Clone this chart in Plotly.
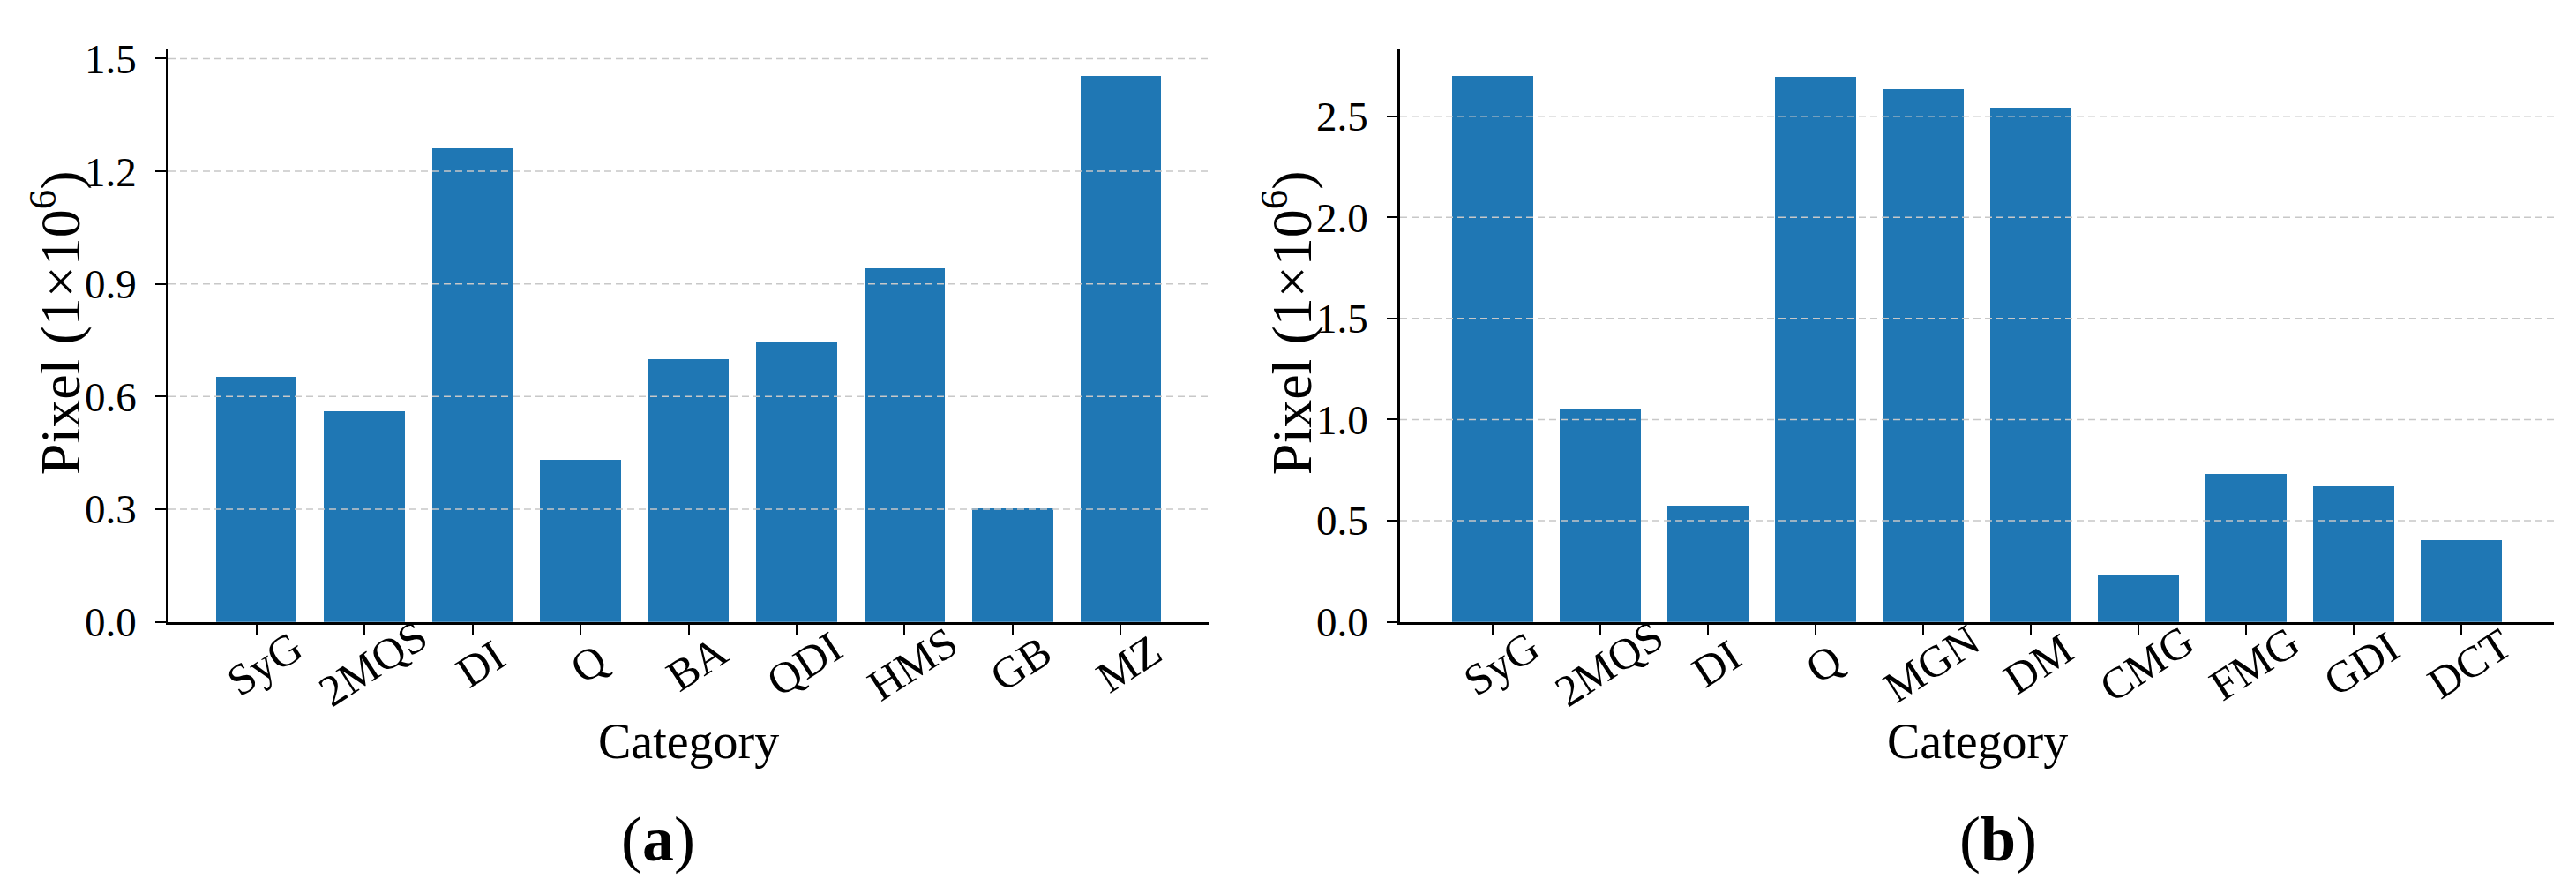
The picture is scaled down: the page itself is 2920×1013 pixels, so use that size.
"""
Pixel counts per category, two side-by-side bar panels (a) and (b).
"""

import plotly.graph_objects as go
from plotly.subplots import make_subplots


# Panel (a) data
CATS_A = ["SyG", "2MQS", "DI", "Q", "BA", "QDI", "HMS", "GB", "MZ"]
VALS_A = [0.654, 0.562, 1.263, 0.432, 0.700, 0.746, 0.942, 0.304, 1.455]
YTICKS_A = [0.0, 0.3, 0.6, 0.9, 1.2, 1.5]

# Panel (b) data
CATS_B = ["SyG", "2MQS", "DI", "Q", "MGN", "DM", "CMG", "FMG", "GDI", "DCT"]
VALS_B = [2.701, 1.056, 0.578, 2.698, 2.636, 2.543, 0.231, 0.733, 0.670, 0.404]
YTICKS_B = [0.0, 0.5, 1.0, 1.5, 2.0, 2.5]

BAR_COLOR = "#1f77b4"
GRID_COLOR = "#c8c8c8"
FONT = "Liberation Serif, Times New Roman, serif"
W, H = 2920, 1013
BAR_WIDTH = 0.75
TICK_ANGLE = -33

# pixel layout of the reference, converted to paper fractions below
PLOT_TOP, PLOT_BOTTOM = 35, 711
PANELS = [
    dict(cats=CATS_A, vals=VALS_A, yticks=YTICKS_A, x0=183, x1=1362, label="a", label_x=738),
    dict(cats=CATS_B, vals=VALS_B, yticks=YTICKS_B, x0=1579, x1=2887, label="b", label_x=2257),
]


def px_x(x):
    return x / W


def px_y(y):
    return (H - y) / H


fig = make_subplots(rows=1, cols=2)

for i, p in enumerate(PANELS, start=1):
    n = len(p["cats"])
    fig.add_trace(go.Bar(
        x=p["cats"], y=p["vals"],
        width=BAR_WIDTH,
        marker=dict(color=BAR_COLOR, line=dict(width=0)),
        showlegend=False,
    ), row=1, col=i)

    # matplotlib-like 5% margins
    pad = 0.05 * (n - 1 + BAR_WIDTH)
    fig.update_xaxes(
        domain=[px_x(p["x0"]), px_x(p["x1"])],
        range=[-BAR_WIDTH / 2 - pad, n - 1 + BAR_WIDTH / 2 + pad],
        showline=True, linecolor="black", linewidth=2.5,
        ticks="outside", ticklen=12, tickwidth=2, tickcolor="black",
        showticklabels=False, showgrid=False, zeroline=False,
        layer="above traces",
        row=1, col=i,
    )
    fig.update_yaxes(
        domain=[px_y(PLOT_BOTTOM), px_y(PLOT_TOP)],
        range=[0, max(p["vals"]) * 1.05],
        tickvals=p["yticks"], tickformat=".1f",
        showline=True, linecolor="black", linewidth=2.5,
        ticks="outside", ticklen=12, tickwidth=2, tickcolor="black",
        ticklabelstandoff=12,
        tickfont=dict(family=FONT, size=47, color="black"),
        showgrid=False, zeroline=False,
        layer="above traces",
        row=1, col=i,
    )

    # dashed grid drawn over the bars, as in the original
    for v in p["yticks"][1:]:
        fig.add_hline(y=v, line=dict(color=GRID_COLOR, width=1.5, dash="8px,5px"),
                      layer="above", row=1, col=i)

    xref = "x" if i == 1 else f"x{i}"
    yref = "y" if i == 1 else f"y{i}"

    # rotated category labels, centred under each tick
    for c in p["cats"]:
        fig.add_annotation(
            x=c, y=0, xref=xref, yref=yref,
            text=c, textangle=TICK_ANGLE, showarrow=False,
            xanchor="center", yanchor="middle", xshift=9, yshift=-47,
            font=dict(family=FONT, size=50, color="black"),
        )

    # axis titles
    mid_x = (p["x0"] + p["x1"]) / 2
    fig.add_annotation(
        x=px_x(mid_x), y=px_y(852), xref="paper", yref="paper",
        text="Category", showarrow=False, xanchor="center", yanchor="middle",
        font=dict(family=FONT, size=56, color="black"),
    )
    fig.add_annotation(
        x=px_x(p["x0"] - 128), y=px_y((PLOT_TOP + PLOT_BOTTOM) / 2 - 14),
        xref="paper", yref="paper",
        text="Pixel (1×10<sup>6</sup>)", textangle=-90, showarrow=False,
        xanchor="center", yanchor="middle",
        font=dict(family=FONT, size=64, color="black"),
    )
    # panel caption
    fig.add_annotation(
        x=px_x(p["label_x"]), y=px_y(967), xref="paper", yref="paper",
        text=f"(<b>{p['label']}</b>)", showarrow=False,
        xanchor="center", yanchor="middle",
        font=dict(family=FONT, size=72, color="black"),
    )

fig.update_layout(
    width=W, height=H,
    margin=dict(l=0, r=0, t=0, b=0),
    paper_bgcolor="white",
    plot_bgcolor="white",
    bargap=0,
    font=dict(family=FONT, color="black"),
)

fig.write_html("out.html")
